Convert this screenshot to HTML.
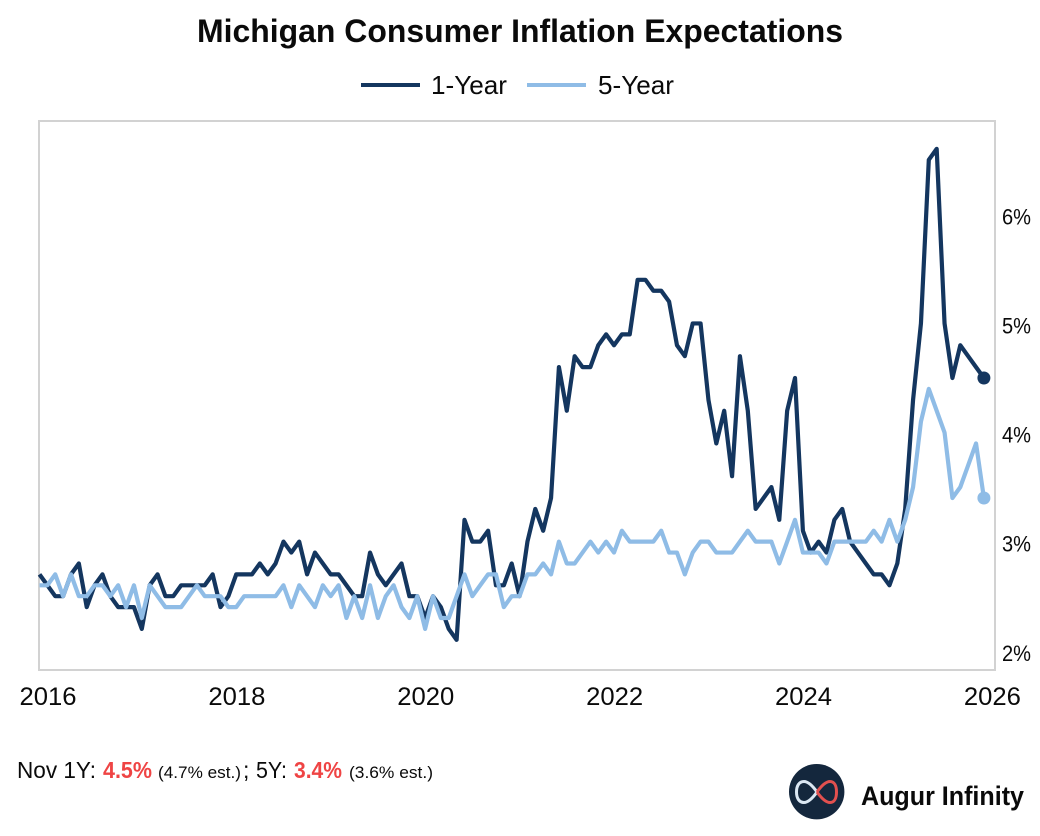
<!DOCTYPE html>
<html lang="en">
<head>
<meta charset="utf-8">
<title>Michigan Consumer Inflation Expectations</title>
<style>
html,body{margin:0;padding:0;background:#fff;}
svg{display:block;font-family:"Liberation Sans",sans-serif;}
</style>
</head>
<body>
<svg id="chart" xmlns="http://www.w3.org/2000/svg" width="1040" height="836" viewBox="0 0 1040 836">
  <rect x="0" y="0" width="1040" height="836" fill="#ffffff"/>
  <text x="197" y="42" font-size="32" font-weight="700" fill="#0a0a0a" textLength="646" lengthAdjust="spacingAndGlyphs">Michigan Consumer Inflation Expectations</text>

  <g>
    <line x1="361" y1="85" x2="420" y2="85" stroke="#14365f" stroke-width="4"/>
    <text x="431" y="94" font-size="26" fill="#0a0a0a" textLength="76" lengthAdjust="spacingAndGlyphs">1-Year</text>
    <line x1="527" y1="85" x2="586" y2="85" stroke="#8fbce6" stroke-width="4"/>
    <text x="598" y="94" font-size="26" fill="#0a0a0a" textLength="76" lengthAdjust="spacingAndGlyphs">5-Year</text>
  </g>

  <rect x="39" y="121" width="956" height="549" fill="none" stroke="#d2d2d2" stroke-width="2"/>
  <g id="marks"></g>
  <g id="y-axis"></g>
  <g id="x-axis"></g>

  <g fill="#0a0a0a">
    <text x="17" y="778" font-size="23" textLength="79" lengthAdjust="spacingAndGlyphs">Nov 1Y:</text>
    <text x="103" y="778" font-size="23" font-weight="700" fill="#ef4444" textLength="49" lengthAdjust="spacingAndGlyphs">4.5%</text>
    <text x="158" y="778" font-size="17" textLength="83" lengthAdjust="spacingAndGlyphs">(4.7% est.)</text>
    <text x="243" y="778" font-size="23">;</text>
    <text x="256" y="778" font-size="23" textLength="31" lengthAdjust="spacingAndGlyphs">5Y:</text>
    <text x="294" y="778" font-size="23" font-weight="700" fill="#ef4444" textLength="48" lengthAdjust="spacingAndGlyphs">3.4%</text>
    <text x="349" y="778" font-size="17" textLength="84" lengthAdjust="spacingAndGlyphs">(3.6% est.)</text>
  </g>

  <g>
    <circle cx="816.7" cy="791.7" r="27.7" fill="#14273d"/>
    <path d="M817 792 C812 785 808 781.5 804 781.5 C799 781.5 796.5 786 796.5 792 C796.5 798 799 802.5 804 802.5 C808 802.5 812 799 817 792" fill="none" stroke="#dbe7f3" stroke-width="3"/>
    <path d="M817 792 C822 785 826 781.5 830 781.5 C834.5 781.5 836.5 786 836.5 792 C836.5 798 834.5 802.5 830 802.5 C826 802.5 822 799 817 792" fill="none" stroke="#e2504f" stroke-width="3"/>
    <text x="861" y="805" font-size="27" font-weight="700" fill="#0a0a0a" textLength="163" lengthAdjust="spacingAndGlyphs">Augur Infinity</text>
  </g>
</svg>
<script>
const yearLabels = ["2016", "2018", "2020", "2022", "2024", "2026"];
const percentTicks = [2, 3, 4, 5, 6];
const oneYear = [
  2.7,2.6,2.5,2.5,2.7,2.8,2.4,2.6,2.7,2.5,
  2.4,2.4,2.4,2.2,2.6,2.7,2.5,2.5,2.6,2.6,
  2.6,2.6,2.7,2.4,2.5,2.7,2.7,2.7,2.8,2.7,
  2.8,3.0,2.9,3.0,2.7,2.9,2.8,2.7,2.7,2.6,
  2.5,2.5,2.9,2.7,2.6,2.7,2.8,2.5,2.5,2.3,
  2.5,2.4,2.2,2.1,3.2,3.0,3.0,3.1,2.6,2.6,
  2.8,2.5,3.0,3.3,3.1,3.4,4.6,4.2,4.7,4.6,
  4.6,4.8,4.9,4.8,4.9,4.9,5.4,5.4,5.3,5.3,
  5.2,4.8,4.7,5.0,5.0,4.3,3.9,4.2,3.6,4.7,
  4.2,3.3,3.4,3.5,3.2,4.2,4.5,3.1,2.9,3.0,
  2.9,3.2,3.3,3.0,2.9,2.8,2.7,2.7,2.6,2.8,
  3.3,4.3,5.0,6.5,6.6,5.0,4.5,4.8,4.7,4.6,4.5
];
const fiveYear = [
  2.6,2.6,2.7,2.5,2.7,2.5,2.5,2.6,2.6,2.5,
  2.6,2.4,2.6,2.3,2.6,2.5,2.4,2.4,2.4,2.5,
  2.6,2.5,2.5,2.5,2.4,2.4,2.5,2.5,2.5,2.5,
  2.5,2.6,2.4,2.6,2.5,2.4,2.6,2.5,2.6,2.3,
  2.5,2.3,2.6,2.3,2.5,2.6,2.4,2.3,2.5,2.2,
  2.5,2.3,2.3,2.5,2.7,2.5,2.6,2.7,2.7,2.4,
  2.5,2.5,2.7,2.7,2.8,2.7,3.0,2.8,2.8,2.9,
  3.0,2.9,3.0,2.9,3.1,3.0,3.0,3.0,3.0,3.1,
  2.9,2.9,2.7,2.9,3.0,3.0,2.9,2.9,2.9,3.0,
  3.1,3.0,3.0,3.0,2.8,3.0,3.2,2.9,2.9,2.9,
  2.8,3.0,3.0,3.0,3.0,3.0,3.1,3.0,3.2,3.0,
  3.2,3.5,4.1,4.4,4.2,4.0,3.4,3.5,3.7,3.9,3.4
];

const NS = "http://www.w3.org/2000/svg";
const xOf = function (i) { return 39.5 + 7.87 * i; };
const yOf = function (v) { return 378 - (v - 4.5) * 109.1; };
const marks = document.getElementById("marks");
const yAxis = document.getElementById("y-axis");
const xAxis = document.getElementById("x-axis");

function drawSeries(values, color, name) {
  const pts = values.map(function (v, i) { return xOf(i).toFixed(2) + "," + yOf(v).toFixed(2); }).join(" ");
  const line = document.createElementNS(NS, "polyline");
  line.setAttribute("points", pts);
  line.setAttribute("fill", "none");
  line.setAttribute("stroke", color);
  line.setAttribute("stroke-width", "4.2");
  line.setAttribute("stroke-linejoin", "round");
  
  
  marks.appendChild(line);
  const last = values.length - 1;
  const dot = document.createElementNS(NS, "circle");
  dot.setAttribute("cx", xOf(last));
  dot.setAttribute("cy", yOf(values[last]));
  dot.setAttribute("r", "6.5");
  dot.setAttribute("fill", color);
  
  
  marks.appendChild(dot);
}
drawSeries(oneYear, "#14365f", "one-year");
drawSeries(fiveYear, "#8fbce6", "five-year");

percentTicks.forEach(function (t) {
  const el = document.createElementNS(NS, "text");
  el.textContent = t + "%";
  el.setAttribute("x", "1002");
  el.setAttribute("y", (yOf(t) + 10).toFixed(1));
  el.setAttribute("font-size", "22");
  el.setAttribute("fill", "#0a0a0a");
  el.setAttribute("textLength", "29");
  el.setAttribute("lengthAdjust", "spacingAndGlyphs");
  
  
  yAxis.appendChild(el);
});

yearLabels.forEach(function (label, k) {
  const el = document.createElementNS(NS, "text");
  el.textContent = label;
  el.setAttribute("x", (xOf(k * 24) + 8.5 - 28.5).toFixed(1));
  el.setAttribute("y", "705");
  el.setAttribute("font-size", "25");
  el.setAttribute("fill", "#0a0a0a");
  el.setAttribute("textLength", "57");
  el.setAttribute("lengthAdjust", "spacingAndGlyphs");
  
  
  xAxis.appendChild(el);
});
</script>
</body>
</html>
